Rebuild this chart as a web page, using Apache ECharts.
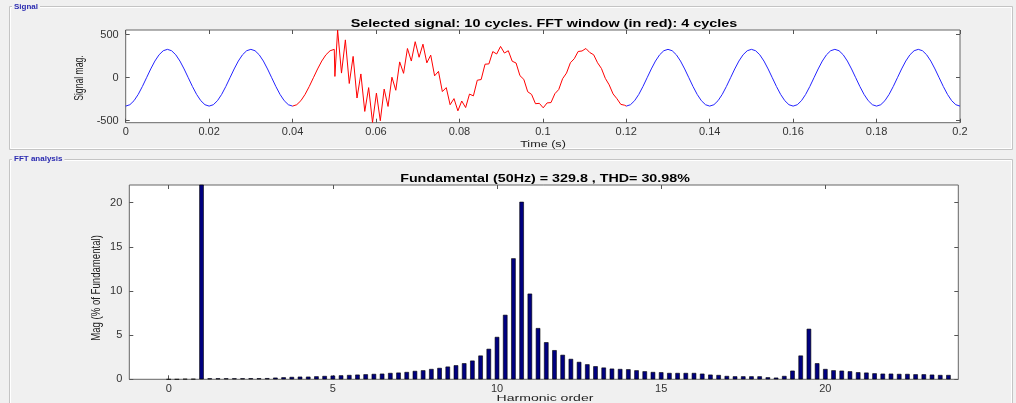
<!DOCTYPE html>
<html><head><meta charset="utf-8">
<script src="https://cdn.jsdelivr.net/npm/echarts@6/dist/echarts.min.js"></script>
<style>html,body{margin:0;padding:0;background:#f0f0f0;}#c{width:1016px;height:403px;}</style>
</head><body><div id="c"></div>
<script>
// ---- Signal (time in ms, magnitude) ----
const sigTimeMs = [
 0,1,2,3,4,5,6,7,8,9,10,11,12,13,14,15,16,17,18,19,
 20,21,22,23,24,25,26,27,28,29,30,31,32,33,34,35,36,37,38,39,
 40,41,42,43,44,45,46,47,48,49,50,50.15,
 50.8,51.73,52.66,53.59,54.52,55.45,56.38,57.31,58.24,59.17,
 60.1,61.03,61.96,62.89,63.82,64.75,65.68,66.61,67.54,68.47,
 69.4,70.33,71.26,72.19,73.12,74.05,74.98,75.91,76.84,77.77,
 78.7,79.63,80.56,81.49,82.42,83.35,84.28,85.21,86.14,87.07,
 88,88.93,89.86,90.79,91.72,92.65,93.58,94.51,95.44,96.37,
 97.3,98.23,99.16,100.09,101.02,101.95,102.88,103.81,104.74,105.67,
 106.6,107.53,108.46,109.39,110.32,111.25,112.18,113.11,114.04,114.97,
 115.9,116.83,117.76,118.69,119.62,
 120,121,122,123,124,125,126,127,128,129,130,131,132,133,134,135,136,137,138,139,
 140,141,142,143,144,145,146,147,148,149,150,151,152,153,154,155,156,157,158,159,
 160,161,162,163,164,165,166,167,168,169,170,171,172,173,174,175,176,177,178,179,
 180,181,182,183,184,185,186,187,188,189,190,191,192,193,194,195,196,197,198,199,200
];
const sigValue = [
 -330,-314,-267,-194,-102,0,102,194,267,314,330,314,267,194,102,0,-102,-194,-267,-314,
 -330,-314,-267,-194,-102,0,102,194,267,314,330,314,267,194,102,0,-102,-194,-267,-314,
 -330,-314,-267,-194,-102,0,102,194,267,314,330,15,
 555,54,440,-67,248,-236,44,-392,-115,-520,
 -179,-500,-132,-334,6,-146,184,51,340,194,
 419,238,390,173,263,22,74,-161,-115,-314,
 -243,-385,-271,-347,-190,-211,-29,-21,157,161,
 304,276,364,287,314,192,171,24,-19,-163,
 -194,-302,-298,-350,-293,-289,-186,-137,-11,54,
 174,221,305,311,340,293,267,174,108,-7,
 -83,-188,-244,-310,-320,
 -330,-314,-267,-194,-102,0,102,194,267,314,330,314,267,194,102,0,-102,-194,-267,-314,
 -330,-314,-267,-194,-102,0,102,194,267,314,330,314,267,194,102,0,-102,-194,-267,-314,
 -330,-314,-267,-194,-102,0,102,194,267,314,330,314,267,194,102,0,-102,-194,-267,-314,
 -330,-314,-267,-194,-102,0,102,194,267,314,330,314,267,194,102,0,-102,-194,-267,-314,-330
];
const fftWindowMs = [40, 120];
const timeTicks = [0,0.02,0.04,0.06,0.08,0.1,0.12,0.14,0.16,0.18,0.2];
const signalTicks = [-500,0,500];

// ---- FFT (harmonic order, % of fundamental) ----
const harmonicOrder = [
 0,0.25,0.5,0.75,1,1.25,1.5,1.75,2,2.25,2.5,2.75,3,3.25,3.5,3.75,4,4.25,4.5,4.75,
 5,5.25,5.5,5.75,6,6.25,6.5,6.75,7,7.25,7.5,7.75,8,8.25,8.5,8.75,9,9.25,9.5,9.75,
 10,10.25,10.5,10.75,11,11.25,11.5,11.75,12,12.25,12.5,12.75,13,13.25,13.5,13.75,14,14.25,14.5,14.75,
 15,15.25,15.5,15.75,16,16.25,16.5,16.75,17,17.25,17.5,17.75,18,18.25,18.5,18.75,19,19.25,19.5,19.75,
 20,20.25,20.5,20.75,21,21.25,21.5,21.75,22,22.25,22.5,22.75,23,23.25,23.5,23.75
];
const harmonicMag = [
 0,0,0.04,0.04,100,0.11,0.11,0.11,0.11,0.11,0.12,0.12,0.13,0.19,0.23,0.27,0.30,0.30,0.34,0.38,
 0.42,0.45,0.49,0.53,0.57,0.61,0.64,0.72,0.76,0.83,0.95,1.02,1.17,1.29,1.44,1.59,1.82,2.12,2.69,3.45,
 4.8,7.3,13.7,20.1,9.7,5.8,4.2,3.3,2.77,2.31,1.97,1.70,1.48,1.33,1.21,1.17,1.14,1.02,0.91,0.83,
 0.80,0.72,0.72,0.72,0.72,0.64,0.53,0.49,0.38,0.34,0.34,0.34,0.34,0.23,0.19,0.38,0.98,2.69,5.72,1.82,
 1.17,1.02,0.98,0.91,0.80,0.76,0.68,0.64,0.64,0.61,0.61,0.57,0.57,0.53,0.49,0.49
];
const orderTicks = [0,5,10,15,20];
const magTicks = [0,5,10,15,20];

const FONT = "'Liberation Sans', Arial, sans-serif";
const blueA = [], red = [], blueB = [];
for (let i = 0; i < sigTimeMs.length; i++) {
  const t = sigTimeMs[i], p = [t / 1000, sigValue[i]];
  if (t <= fftWindowMs[0]) blueA.push(p);
  if (t >= fftWindowMs[0] && t <= fftWindowMs[1]) red.push(p);
  if (t >= fftWindowMs[1]) blueB.push(p);
}
const bars = harmonicOrder.map((h, i) => [h, harmonicMag[i]]);

function xAx(grid, min, max, ticks, show, pos) {
  return {
    type: 'value', gridIndex: grid, min: min, max: max, position: pos,
    axisLine: {show: false, onZero: false},
    axisTick: {show: true, inside: true, length: 4, customValues: ticks, lineStyle: {color: '#555'}},
    axisLabel: {show: show, customValues: ticks, color: '#333', fontSize: 11, fontFamily: FONT, margin: 4},
    splitLine: {show: false}
  };
}
function yAx(grid, min, max, ticks, show, pos) {
  return {
    type: 'value', gridIndex: grid, min: min, max: max, position: pos,
    axisLine: {show: false, onZero: false},
    axisTick: {show: true, inside: true, length: 4, customValues: ticks, lineStyle: {color: '#555'}},
    axisLabel: {show: show, customValues: ticks, color: '#333', fontSize: 11, fontFamily: FONT, margin: 7},
    splitLine: {show: false}
  };
}
function txt(s, x, y, opt) {
  return Object.assign({type: 'text', x: x, y: y, z: 20, silent: true,
    style: {text: s, font: (opt.bold ? 'bold ' : '') + opt.size + 'px ' + FONT, fill: opt.color || '#000',
            align: 'center', verticalAlign: 'middle'}}, opt.tf || {});
}

const chart = echarts.init(document.getElementById('c'), null, {renderer: 'canvas'});
chart.setOption({
  backgroundColor: '#f0f0f0',
  animation: false,
  grid: [
    {left: 125.7, top: 30, width: 834.3, height: 92.7, show: true, backgroundColor: '#fff', borderColor: '#666', borderWidth: 1},
    {left: 129.3, top: 185, width: 829, height: 194.3, show: true, backgroundColor: '#fff', borderColor: '#666', borderWidth: 1}
  ],
  xAxis: [
    xAx(0, 0, 0.2, timeTicks, true, 'bottom'),
    xAx(0, 0, 0.2, timeTicks, false, 'top'),
    xAx(1, -1.2, 24.05, orderTicks, true, 'bottom'),
    xAx(1, -1.2, 24.05, orderTicks, false, 'top')
  ],
  yAxis: [
    yAx(0, -523, 555, signalTicks, true, 'left'),
    yAx(0, -523, 555, signalTicks, false, 'right'),
    yAx(1, 0, 22, magTicks, true, 'left'),
    yAx(1, 0, 22, magTicks, false, 'right')
  ],
  series: [
    {type: 'line', xAxisIndex: 0, yAxisIndex: 0, data: blueA, showSymbol: false, lineStyle: {color: '#2424ff', width: 1}},
    {type: 'line', xAxisIndex: 0, yAxisIndex: 0, data: red, showSymbol: false, lineStyle: {color: '#ff0000', width: 1}},
    {type: 'line', xAxisIndex: 0, yAxisIndex: 0, data: blueB, showSymbol: false, lineStyle: {color: '#2424ff', width: 1}},
    {type: 'bar', xAxisIndex: 2, yAxisIndex: 2, data: bars, barWidth: 4.5, clip: true,
     itemStyle: {color: '#000080', borderColor: '#000', borderWidth: 0.6}}
  ],
  graphic: [
    {type: 'rect', silent: true, shape: {x: 9.5, y: 6.5, width: 1003, height: 143}, style: {fill: 'none', stroke: '#c4c4c4', lineWidth: 1}},
    {type: 'rect', silent: true, shape: {x: 10.5, y: 7.5, width: 1001, height: 141}, style: {fill: 'none', stroke: '#ffffff', lineWidth: 1}},
    {type: 'rect', silent: true, shape: {x: 9.5, y: 159.5, width: 1003, height: 260}, style: {fill: 'none', stroke: '#c4c4c4', lineWidth: 1}},
    {type: 'rect', silent: true, shape: {x: 10.5, y: 160.5, width: 1001, height: 258}, style: {fill: 'none', stroke: '#ffffff', lineWidth: 1}},
    {type: 'text', x: 12, y: 7, z: 20, style: {text: 'Signal', font: 'bold 8px ' + FONT, fill: '#2a2ab0', backgroundColor: '#f0f0f0', padding: [1, 2], verticalAlign: 'middle'}},
    {type: 'text', x: 12, y: 159, z: 20, style: {text: 'FFT analysis', font: 'bold 8px ' + FONT, fill: '#2a2ab0', backgroundColor: '#f0f0f0', padding: [1, 2], verticalAlign: 'middle'}},
    txt('Selected signal: 10 cycles. FFT window (in red): 4 cycles', 544, 24, {bold: true, size: 12, tf: {scaleX: 1.2, scaleY: 0.9}}),
    txt('Fundamental (50Hz) = 329.8 , THD= 30.98%', 545, 179, {bold: true, size: 12, tf: {scaleX: 1.19, scaleY: 0.9}}),
    txt('Time (s)', 543, 144, {size: 12, color: '#222', tf: {scaleX: 1.05, scaleY: 0.8}}),
    txt('Harmonic order', 545, 398.5, {size: 12, color: '#222', tf: {scaleX: 1.17, scaleY: 0.8}}),
    txt('Signal mag.', 80, 78, {size: 12, color: '#222', tf: {rotation: Math.PI / 2, scaleX: 0.72}}),
    txt('Mag (% of Fundamental)', 97, 288, {size: 12, color: '#222', tf: {rotation: Math.PI / 2, scaleX: 0.8}})
  ]
});
</script></body></html>
